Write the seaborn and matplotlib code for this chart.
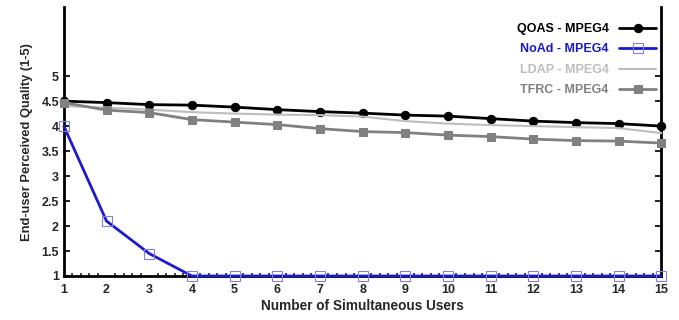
import numpy as np
import pandas as pd
import matplotlib
matplotlib.use("Agg")
import matplotlib.pyplot as plt
import seaborn as sns
from matplotlib.ticker import MultipleLocator

users = list(range(1, 16))
qoas = [4.5, 4.47, 4.43, 4.42, 4.38, 4.33, 4.29, 4.26, 4.22, 4.2, 4.15, 4.1, 4.07, 4.05, 4.0]
noad = [4.0, 2.1, 1.45, 1.0, 1.0, 1.0, 1.0, 1.0, 1.0, 1.0, 1.0, 1.0, 1.0, 1.0, 1.0]
ldap = [4.4, 4.37, 4.33, 4.28, 4.25, 4.23, 4.22, 4.19, 4.1, 4.05, 4.02, 4.0, 3.98, 3.96, 3.86]
tfrc = [4.47, 4.32, 4.27, 4.13, 4.08, 4.03, 3.95, 3.89, 3.87, 3.82, 3.79, 3.74, 3.71, 3.7, 3.66]

sns.set_style("white")
plt.rcParams['font.family'] = ['Liberation Sans', 'DejaVu Sans']
plt.rcParams['font.weight'] = 'bold'

fig = plt.figure(figsize=(6.79, 3.2), dpi=100)
ax = fig.add_axes([0.094, 0.1375, 0.88, 0.84])

# series: label, data, colour, marker, mfc, linewidth
series = [
    ("QOAS - MPEG4", qoas, "black", "o", "black", 2.0),
    ("NoAd - MPEG4", noad, "#1a1acc", "s", "none", 2.0),
    ("LDAP - MPEG4", ldap, "#bdbdbd", None, None, 1.5),
    ("TFRC - MPEG4", tfrc, "#808080", "s", "#808080", 2.0),
]
for name, vals, col, mk, mfc, lw in series:
    df = pd.DataFrame({"users": users, "q": vals})
    kw = dict(marker=mk, markersize=6, markerfacecolor=mfc, markeredgecolor=col if mk else None)
    if mk == "s" and mfc == "none":
        kw.update(markeredgewidth=0.8, markeredgecolor="#8080e0", markersize=7)
    if mk is None:
        kw = {}
    sns.lineplot(data=df, x="users", y="q", ax=ax, color=col, linewidth=lw,
                 label=name, clip_on=False, zorder=3, **kw)

ax.set_xlim(1, 15)
ax.set_ylim(1, 6.38)
ax.set_yticks([1, 1.5, 2, 2.5, 3, 3.5, 4, 4.5, 5])
ax.set_yticklabels(["1", "1.5", "2", "2.5", "3", "3.5", "4", "4.5", "5"])
ax.set_xticks(users)
ax.xaxis.set_minor_locator(MultipleLocator(0.2))
ax.tick_params(axis="x", which="major", direction="in", length=4, width=1.5, labelsize=9, pad=6)
ax.tick_params(axis="x", which="minor", direction="in", length=2, width=1.2, bottom=True)
ax.tick_params(axis="y", which="major", direction="in", length=4, width=1.5, labelsize=9,
               left=True, right=True)
ax.set_xlabel("Number of Simultaneous Users", fontsize=9.8, fontweight="bold", labelpad=2)
ax.set_ylabel("End-user Perceived Quality (1-5)", fontsize=9.3, fontweight="bold", labelpad=6)

for s in ["left", "right", "bottom"]:
    ax.spines[s].set_linewidth(2)
    ax.spines[s].set_color("black")
ax.spines["top"].set_visible(False)

leg = ax.legend(loc="upper right", frameon=False, markerfirst=False, fontsize=9,
                handlelength=3, labelspacing=0.68, borderaxespad=0.0,
                bbox_to_anchor=(1.0, 0.96))
for txt, (_, _, col, _, _, _) in zip(leg.get_texts(), series):
    txt.set_color(col)

fig.savefig("out.png", dpi=100)
